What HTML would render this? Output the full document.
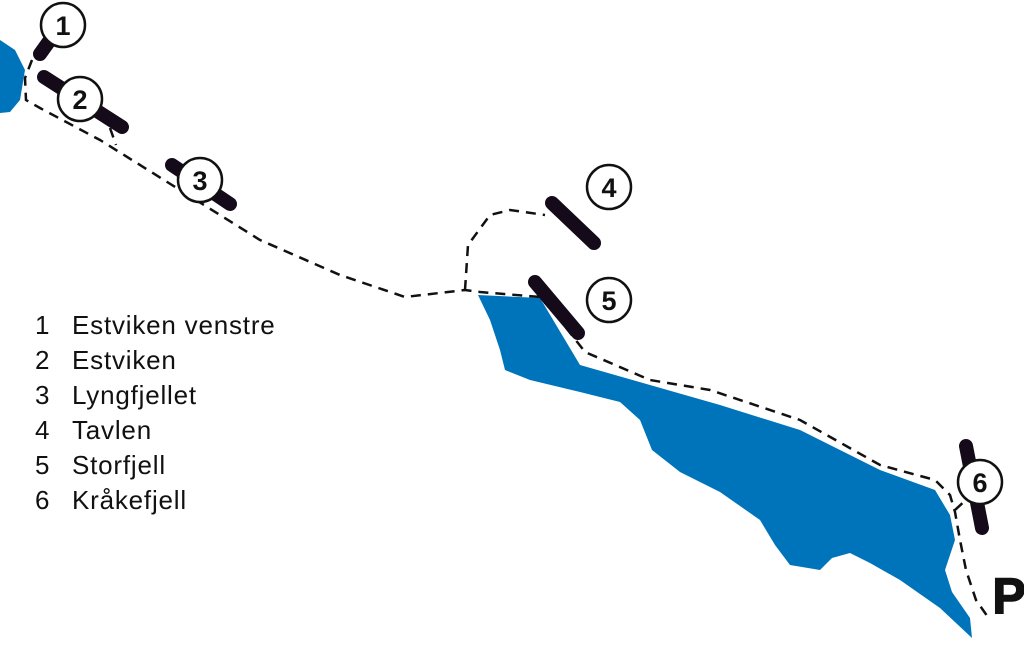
<!DOCTYPE html>
<html><head><style>body{margin:0;background:#fff}svg{display:block}</style></head><body>
<svg width="1024" height="655" viewBox="0 0 1024 655" xmlns="http://www.w3.org/2000/svg">
<path d="M0,40 L15,50 L25,70 L20,100 L10,112 L0,113 Z" fill="#0074bb"/>
<path d="M478,295 L540,298 L580,365 L650,385 L720,405 L800,430 L880,470 L935,490 L950,515 L955,540 L945,570 L952,592 L970,618 L972,638 L940,608 L900,580 L870,563 L850,553 L832,558 L820,570 L790,565 L775,545 L760,520 L720,492 L680,472 L652,450 L640,420 L620,402 L580,392 L530,380 L505,370 L500,350 L490,320 Z" fill="#0074bb"/>
<g fill="none" stroke="#111" stroke-width="2.5" stroke-dasharray="10,7">
<path d="M32,60 L25,78 L26,100 L40,108 L100,140 L180,190 L260,240 L340,275 L405,297 L465,290 L480,292 L540,297 L560,320 L585,352 L650,380 L710,390 L800,420 L880,465 L935,480 L950,495 L955,512 L960,540 L966,570 L976,600 L990,620"/>
<path d="M465,290 L468,245 L490,215 L510,210 L545,215"/>
<path d="M110,128 L116,145"/>
<path d="M955,510 L968,498"/>
</g>
<g stroke="#140a1a" stroke-width="14" stroke-linecap="round">
<line x1="40" y1="54" x2="50" y2="40"/>
<line x1="44" y1="77" x2="122" y2="127"/>
<line x1="172" y1="165" x2="230" y2="204"/>
<line x1="552" y1="203" x2="594" y2="243"/>
<line x1="535" y1="282" x2="578" y2="333"/>
<line x1="966" y1="446" x2="982" y2="528"/>
</g>
<g fill="#fff" stroke="#111" stroke-width="2.5">
<circle cx="63" cy="25" r="22"/><circle cx="80" cy="99" r="22"/><circle cx="200" cy="180" r="22"/>
<circle cx="609" cy="187" r="22"/><circle cx="609" cy="300" r="22"/><circle cx="980" cy="482" r="22"/>
</g>
<g font-family="Liberation Sans, sans-serif" font-weight="bold" font-size="27" text-anchor="middle" fill="#111">
<text x="63" y="35">1</text><text x="80" y="109">2</text><text x="200" y="190">3</text>
<text x="609" y="197">4</text><text x="609" y="310">5</text><text x="980" y="492">6</text>
<text x="1009" y="613" font-size="50" stroke="#111" stroke-width="1.5">P</text>
</g>
<g font-family="Liberation Sans, sans-serif" font-size="26" letter-spacing="0.8" fill="#111">
<text x="35" y="334">1</text><text x="72" y="334">Estviken venstre</text>
<text x="35" y="369">2</text><text x="72" y="369">Estviken</text>
<text x="35" y="404">3</text><text x="72" y="404">Lyngfjellet</text>
<text x="35" y="439">4</text><text x="72" y="439">Tavlen</text>
<text x="35" y="474">5</text><text x="72" y="474">Storfjell</text>
<text x="35" y="509">6</text><text x="72" y="509">Kråkefjell</text>
</g>
</svg>
</body></html>
